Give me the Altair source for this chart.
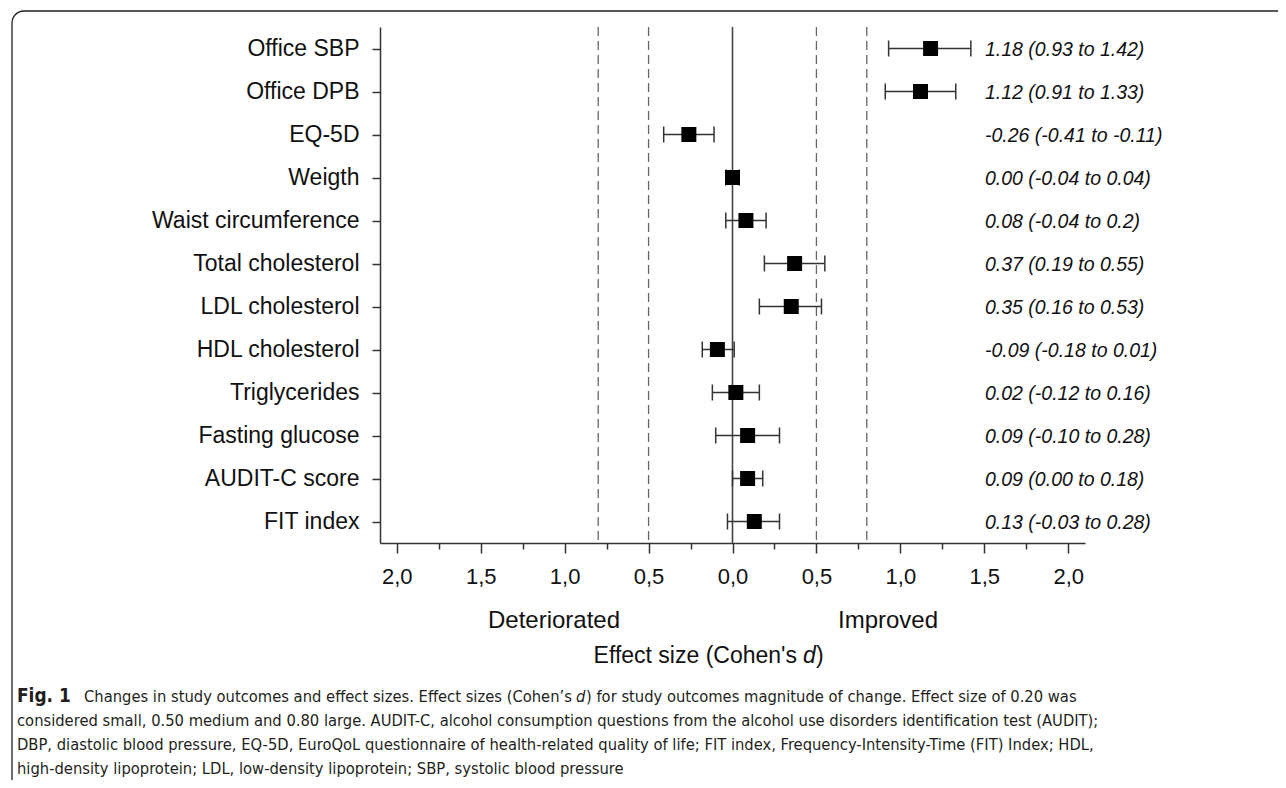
import altair as alt
import pandas as pd

# ---------------- data ----------------
labels = ["Office SBP", "Office DPB", "EQ-5D", "Weigth", "Waist circumference",
          "Total cholesterol", "LDL cholesterol", "HDL cholesterol", "Triglycerides",
          "Fasting glucose", "AUDIT-C score", "FIT index"]
effect = [1.18, 1.12, -0.26, 0.00, 0.08, 0.37, 0.35, -0.09, 0.02, 0.09, 0.09, 0.13]
ci_low = [0.93, 0.91, -0.41, -0.04, -0.04, 0.19, 0.16, -0.18, -0.12, -0.10, 0.00, -0.03]
ci_high = [1.42, 1.33, -0.11, 0.04, 0.20, 0.55, 0.53, 0.01, 0.16, 0.28, 0.18, 0.28]
ci_text = ["1.18 (0.93 to 1.42)", "1.12 (0.91 to 1.33)", "-0.26 (-0.41 to -0.11)",
           "0.00 (-0.04 to 0.04)", "0.08 (-0.04 to 0.2)", "0.37 (0.19 to 0.55)",
           "0.35 (0.16 to 0.53)", "-0.09 (-0.18 to 0.01)", "0.02 (-0.12 to 0.16)",
           "0.09 (-0.10 to 0.28)", "0.09 (0.00 to 0.18)", "0.13 (-0.03 to 0.28)"]
thresholds = [-0.8, -0.5, 0.5, 0.8]
zero_ref = [0.0]
x_tick_values = [-2.0, -1.75, -1.5, -1.25, -1.0, -0.75, -0.5, -0.25, 0.0,
                 0.25, 0.5, 0.75, 1.0, 1.25, 1.5, 1.75, 2.0]
side_left = "Deteriorated"
side_right = "Improved"
x_title = ["Effect size (Cohen's", "d", ")"]
caption_line1 = ["Fig. 1", "Changes in study outcomes and effect sizes. Effect sizes (Cohen\u2019s",
                 "d", ") for study outcomes magnitude of change. Effect size of 0.20 was"]
caption_rest = [
    "considered small, 0.50 medium and 0.80 large. AUDIT-C, alcohol consumption questions from the alcohol use disorders identification test (AUDIT);",
    "DBP, diastolic blood pressure, EQ-5D, EuroQoL questionnaire of health-related quality of life; FIT index, Frequency-Intensity-Time (FIT) Index; HDL,",
    "high-density lipoprotein; LDL, low-density lipoprotein; SBP, systolic blood pressure",
]

df = pd.DataFrame({"label": labels, "effect": effect, "lo": ci_low, "hi": ci_high, "txt": ci_text})
df_thr = pd.DataFrame({"t": thresholds})
df_zero = pd.DataFrame({"t": zero_ref})
one = pd.DataFrame({"k": [0]})

FONT = "Liberation Sans, Arial, sans-serif"
CAPFONT = "Liberation Sans Narrow, DejaVu Sans Condensed, Roboto Condensed, sans-serif"
AX = "#333333"

W, H = 705, 516

xscale = alt.Scale(domain=[-2.1, 2.1], nice=False, zero=False)
x_axis = alt.Axis(
    title=None,
    values=x_tick_values,
    labelExpr="datum.value % 0.5 == 0 ? replace(format(abs(datum.value), '.1f'), '.', ',') : ''",
    tickSize={"condition": {"test": "datum.value % 0.5 == 0", "value": 10}, "value": 6},
    tickWidth=1.5, tickColor=AX, domainColor=AX, domainWidth=1.5,
    labelFont=FONT, labelFontSize=22, labelColor="#111111", labelPadding=13,
    labelOverlap=False, labelFlush=False, grid=False,
)
yscale = alt.Scale(type="point", padding=0.5)
y_axis = alt.Axis(
    title=None, tickSize=8, tickWidth=1.5, tickColor=AX, domainColor=AX, domainWidth=1.5,
    labelFont=FONT, labelFontSize=23, labelColor="#111111", labelPadding=13, grid=False,
    labelLimit=400,
)
Y = alt.Y("label:N", sort=labels, scale=yscale, axis=y_axis)

border = alt.Chart(one).mark_rect(
    cornerRadius=12, fillOpacity=0, stroke="#231f20", strokeWidth=1.3
).encode(x=alt.value(-368), x2=alt.value(940), y=alt.value(-16), y2=alt.value(800))

dashed = alt.Chart(df_thr).mark_rule(color="#666666", strokeWidth=1.3, strokeDash=[9, 5]).encode(
    x=alt.X("t:Q", scale=xscale, axis=x_axis))
zero = alt.Chart(df_zero).mark_rule(color="#444444", strokeWidth=1.6).encode(
    x=alt.X("t:Q", scale=xscale, axis=x_axis))

base = alt.Chart(df)
whisk = base.mark_rule(color=AX, strokeWidth=1.5).encode(
    x=alt.X("lo:Q", scale=xscale, axis=x_axis), x2="hi:Q", y=Y)
cap_lo = base.mark_tick(color=AX, thickness=1.5, size=16, opacity=1).encode(
    x=alt.X("lo:Q", scale=xscale, axis=x_axis), y=Y)
cap_hi = base.mark_tick(color=AX, thickness=1.5, size=16, opacity=1).encode(
    x=alt.X("hi:Q", scale=xscale, axis=x_axis), y=Y)
squares = base.mark_square(size=225, color="black", opacity=1).encode(
    x=alt.X("effect:Q", scale=xscale, axis=x_axis), y=Y)
ci_lbl = base.mark_text(align="left", baseline="middle", font=FONT, fontSize=19.5,
                        fontStyle="italic", color="#111111", dy=1).encode(
    x=alt.value(605), y=Y, text="txt:N")

t_left = alt.Chart(one).mark_text(text=side_left, font=FONT, fontSize=24, align="center",
                                  baseline="alphabetic", color="#111111").encode(
    x=alt.value(174), y=alt.value(601))
t_right = alt.Chart(one).mark_text(text=side_right, font=FONT, fontSize=24, align="center",
                                   baseline="alphabetic", color="#111111").encode(
    x=alt.value(508), y=alt.value(601))

xt1 = alt.Chart(one).mark_text(text=x_title[0], font=FONT, fontSize=23, align="right",
                               baseline="alphabetic", color="#111111").encode(
    x=alt.value(417), y=alt.value(636))
xt2 = alt.Chart(one).mark_text(text=x_title[1], font=FONT, fontSize=23, fontStyle="italic",
                               align="left", baseline="alphabetic", color="#111111").encode(
    x=alt.value(423), y=alt.value(636))
xt3 = alt.Chart(one).mark_text(text=x_title[2], font=FONT, fontSize=23, align="left",
                               baseline="alphabetic", color="#111111").encode(
    x=alt.value(436), y=alt.value(636))

CAPSIZE = 16.4
CAPCOL = "#231f20"
CAPY = 675
CAPSTEP = 24
c1a = alt.Chart(one).mark_text(text=caption_line1[0], font=CAPFONT, fontSize=CAPSIZE + 2.5, fontWeight="bold",
                               align="left", baseline="alphabetic", color=CAPCOL).encode(
    x=alt.value(-363), y=alt.value(CAPY))
c1b = alt.Chart(one).mark_text(text=caption_line1[1], font=CAPFONT, fontSize=CAPSIZE,
                               align="left", baseline="alphabetic", color=CAPCOL).encode(
    x=alt.value(-296), y=alt.value(CAPY))
c1c = alt.Chart(one).mark_text(text=caption_line1[2], font=CAPFONT, fontSize=CAPSIZE, fontStyle="italic",
                               align="left", baseline="alphabetic", color=CAPCOL).encode(
    x=alt.value(196), y=alt.value(CAPY))
c1d = alt.Chart(one).mark_text(text=caption_line1[3], font=CAPFONT, fontSize=CAPSIZE,
                               align="left", baseline="alphabetic", color=CAPCOL).encode(
    x=alt.value(206), y=alt.value(CAPY))
cap_layers = [c1a, c1b, c1c, c1d]
for i, line in enumerate(caption_rest):
    cap_layers.append(
        alt.Chart(one).mark_text(text=line, font=CAPFONT, fontSize=CAPSIZE, align="left",
                                 baseline="alphabetic", color=CAPCOL).encode(
            x=alt.value(-363), y=alt.value(CAPY + CAPSTEP * (i + 1)))
    )

chart = alt.layer(
    border, dashed, zero, whisk, cap_lo, cap_hi, squares, ci_lbl,
    t_left, t_right, xt1, xt2, xt3, *cap_layers
).properties(
    width=W, height=H,
    padding={"left": 372, "top": 19, "right": 193, "bottom": 237},
    autosize=alt.AutoSizeParams(type="none"),
    background="white",
).configure_view(stroke=None)

chart.save("out.html", embed_options={"renderer": "svg", "actions": False})
